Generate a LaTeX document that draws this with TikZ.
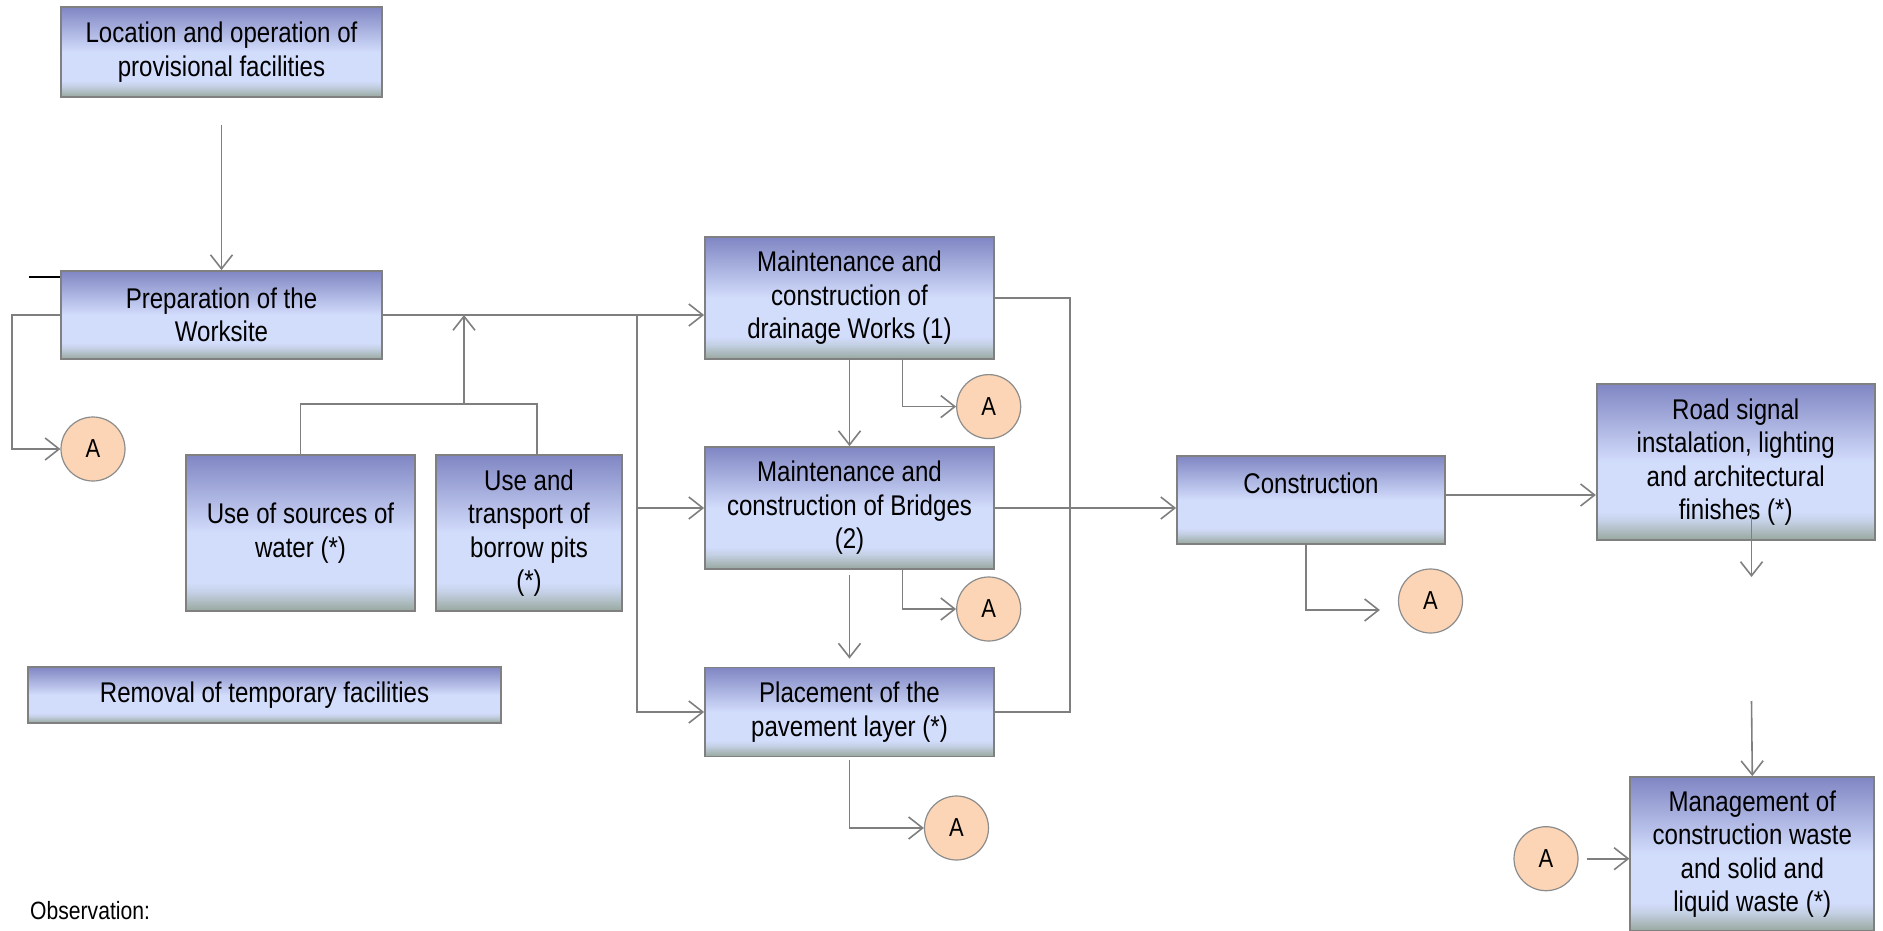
\documentclass[tikz,border=0pt]{standalone}
\usepackage{fontspec}
\setmainfont{Liberation Sans}[FakeStretch=0.845]
\usetikzlibrary{arrows.meta,calc}
\definecolor{lgray}{HTML}{7F7F7F}
\definecolor{bgray}{HTML}{808080}
\definecolor{cgray}{HTML}{8C8C8C}
\definecolor{peach}{HTML}{FBD5B5}
\definecolor{shBot}{HTML}{98A89E}
\definecolor{shLow}{HTML}{C4D0E4}
\definecolor{shLight}{HTML}{D2DCFB}
\definecolor{shTop}{HTML}{8086C3}
\pgfdeclareverticalshading{boxsh}{100bp}{color(0bp)=(shBot); color(25bp)=(shBot); color(31bp)=(shLow); color(34bp)=(shLight); color(50bp)=(shLight); color(75bp)=(shTop); color(100bp)=(shTop)}
\begin{document}
\begin{tikzpicture}[x=1pt, y=-1pt,
  box/.style={draw=bgray, line width=1.8pt, shade, shading=boxsh, align=center, inner sep=0pt, font=\fontsize{28.5}{33.5}\selectfont},
  acirc/.style={circle, draw=cgray, line width=1.2pt, fill=peach, minimum size=64pt, inner sep=0pt, font=\fontsize{26}{26}\selectfont},
  con/.style={draw=lgray, line width=1.6pt},
  arr/.style={draw=lgray, line width=1.6pt, -{Straight Barb[length=14pt,width=22pt]}}]
\useasboundingbox (0,0) rectangle (1883,931);
% boxes
\node[box, minimum width=321pt, minimum height=90pt] (loc) at (221.5,52) {Location and operation of\\provisional facilities};
\node[box, minimum width=321pt, minimum height=88pt] (prep) at (221.5,315) {Preparation of the\\Worksite};
\node[box, minimum width=229pt, minimum height=156pt] (water) at (300.5,533) {Use of sources of\\water (*)};
\node[box, minimum width=186pt, minimum height=156pt] (trans) at (529,533) {Use and\\transport of\\borrow pits\\(*)};
\node[box, minimum width=473pt, minimum height=56pt] (remov) at (264.5,695) {Removal of temporary facilities};
\node[box, minimum width=289pt, minimum height=122pt] (drain) at (849.5,298) {Maintenance and\\construction of\\drainage Works (1)};
\node[box, minimum width=289pt, minimum height=122pt] (bridg) at (849.5,508) {Maintenance and\\construction of Bridges\\(2)};
\node[box, minimum width=289pt, minimum height=89pt] (pav) at (849.5,712) {Placement of the\\pavement layer (*)};
\node[box, minimum width=268pt, minimum height=88pt] (cons) at (1311,500) {Construction\\\mbox{}};
\node[box, minimum width=278pt, minimum height=156pt] (road) at (1735.75,462) {Road signal\\instalation, lighting\\and architectural\\finishes (*)};
\node[box, minimum width=244pt, minimum height=154pt] (mgmt) at (1752.3,854) {Management of\\construction waste\\and solid and\\liquid waste (*)};
% circles
\node[acirc] (a1) at (93,449) {A};
\node[acirc] (a2) at (988.7,406.6) {A};
\node[acirc] (a3) at (988.7,609) {A};
\node[acirc] (a4) at (956.5,828) {A};
\node[acirc] (a5) at (1430.5,601) {A};
\node[acirc] (a6) at (1546,858.7) {A};
\node[anchor=west, inner sep=0pt, font=\fontsize{25}{25}\selectfont] (obs) at (30,911) {Observation:};
% coordinates
\coordinate (bl) at (29,277);
\coordinate (br) at (637,315);
\coordinate (j) at (464,404);
\coordinate (rdA) at (1751.5,503);
\coordinate (rdB) at (1751.5,577);
\coordinate (mt) at (1751.5,701);
% connectors
\draw[black, line width=1.5pt] (bl) -- (bl -| prep.west);
\draw[arr] ([yshift=-27pt]loc.south) -- (prep.north);
\draw[arr] (prep.west) -- ++(-48,0) |- (a1.west);
\draw[arr] (prep.east) -- (prep.east -| drain.west);
\draw[arr] (br) |- (bridg.west);
\draw[arr] (br) |- (pav.west);
\draw[con] (water.north) |- (j) -| ([xshift=8pt]trans.north);
\draw[arr] (j) -- (j |- prep.east);
\draw[arr] (drain.south) -- (bridg.north);
\draw[arr] ([yshift=-5pt]bridg.south) -- ([yshift=8pt]pav.north);
\draw[arr] ([xshift=53pt]drain.south) |- (a2.west);
\draw[arr] ([xshift=53pt]bridg.south) |- (a3.west);
\draw[arr] ([yshift=-3pt]pav.south) |- (a4.west);
\draw[con] (drain.east) -- ++(75,0) |- (pav.east);
\draw[arr] (bridg.east) -- (bridg.east -| cons.west);
\draw[arr] ([yshift=5pt]cons.east) -- ([yshift=5pt]cons.east -| road.west);
\draw[arr] ([xshift=-5pt]cons.south) |- ([shift={(-18pt,-9pt)}]a5.west);
\draw[arr] (rdA) -- (rdB);
\draw[arr] (mt) -- (mgmt.north);
\draw[arr] ([xshift=8pt]a6.east) -- (a6.east -| mgmt.west);
\end{tikzpicture}
\end{document}
